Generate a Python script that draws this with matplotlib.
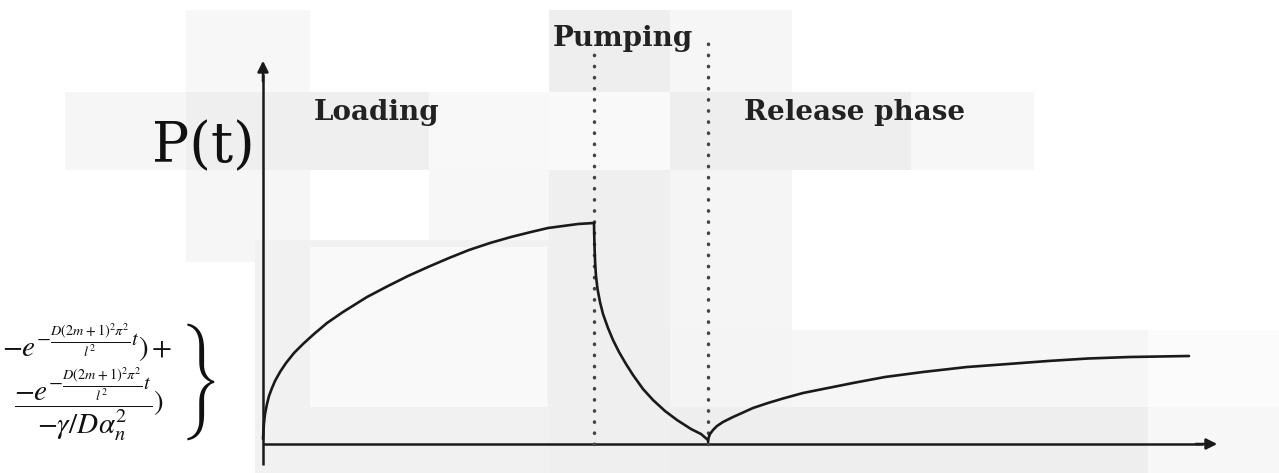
import matplotlib.pyplot as plt
from matplotlib.patches import Rectangle

plt.rcParams["mathtext.fontset"] = "stix"

# schematic P(t) curve: loading, pumping, release (time in arbitrary units)
t_loading = [0.0, 0.005, 0.01, 0.02, 0.04, 0.06, 0.09, 0.12, 0.17, 0.23, 0.31, 0.40, 0.51,
             0.64, 0.80, 1.04, 1.25, 1.45, 1.65, 1.86, 2.06, 2.27, 2.48, 2.68, 2.85, 3.00,
             3.15, 3.31]
p_loading = [0.05, 0.14, 0.21, 0.30, 0.40, 0.48, 0.56, 0.63, 0.72, 0.81, 0.91, 1.00, 1.10,
             1.21, 1.32, 1.47, 1.58, 1.68, 1.77, 1.86, 1.94, 2.01, 2.07, 2.12, 2.16, 2.18,
             2.20, 2.21]

t_pumping = [3.31, 3.312, 3.316, 3.322, 3.33, 3.345, 3.37, 3.40, 3.45, 3.50, 3.56, 3.63,
             3.70, 3.80, 3.90, 4.02, 4.14, 4.28, 4.38, 4.45]
p_pumping = [2.21, 2.10, 1.95, 1.80, 1.68, 1.55, 1.42, 1.30, 1.16, 1.04, 0.92, 0.80,
             0.69, 0.55, 0.44, 0.33, 0.24, 0.15, 0.10, 0.04]

t_release = [4.45, 4.455, 4.47, 4.50, 4.54, 4.60, 4.70, 4.79, 4.90, 5.05, 5.20, 5.40,
             5.65, 5.90, 6.22, 6.60, 7.04, 7.45, 7.85, 8.25, 8.67, 9.26]
p_release = [0.02, 0.06, 0.10, 0.14, 0.18, 0.22, 0.27, 0.31, 0.36, 0.41, 0.455, 0.51,
             0.56, 0.61, 0.67, 0.72, 0.77, 0.80, 0.83, 0.855, 0.87, 0.88]

phase_bounds = [3.31, 4.45]
phase_tops = [3.94, 4.04]
phase_labels = ["Loading", "Pumping", "Release phase"]

# faint scanned background tiles (pixel boxes: x0, y0, x1, y1, grey)
bg_tiles = [
    (186, 10, 310, 92, "#f7f7f7"),
    (65, 92, 186, 170, "#f6f6f6"),
    (186, 92, 429, 170, "#efefef"),
    (429, 92, 549, 170, "#f8f8f8"),
    (549, 10, 670, 92, "#eeeeee"),
    (670, 10, 792, 92, "#f6f6f6"),
    (549, 92, 670, 170, "#f9f9f9"),
    (670, 92, 911, 170, "#eeeeee"),
    (911, 92, 1034, 170, "#f7f7f7"),
    (186, 170, 310, 262, "#f6f6f6"),
    (429, 170, 549, 262, "#f7f7f7"),
    (255, 240, 549, 473, "#f1f1f1"),
    (310, 247, 547, 407, "#f9f9f9"),
    (549, 170, 670, 473, "#efefef"),
    (670, 170, 792, 330, "#f5f5f5"),
    (670, 330, 792, 407, "#f4f4f4"),
    (792, 330, 1148, 407, "#f6f6f6"),
    (1148, 330, 1279, 407, "#fbfbfb"),
    (670, 407, 1148, 473, "#eeeeee"),
    (1148, 407, 1279, 473, "#f7f7f7"),
]

fig = plt.figure(figsize=(12.79, 4.73), dpi=100)

bg = fig.add_axes([0, 0, 1, 1])
bg.set_xlim(0, 1279)
bg.set_ylim(473, 0)
bg.axis("off")
for x0, y0, x1, y1, c in bg_tiles:
    bg.add_patch(Rectangle((x0, y0), x1 - x0, y1 - y0, facecolor=c, edgecolor="none"))

ax = fig.add_axes([0, 0, 1, 1])
ax.patch.set_alpha(0)
ax.set_xlim(-2.63, 10.16)
ax.set_ylim(-0.29, 4.44)
ax.axis("off")

ink = "#1a1a1a"

# axes with arrow heads
ax.plot([0, 0], [-0.21, 3.7], color=ink, lw=1.8, solid_capstyle="butt")
ax.annotate("", xy=(0, 3.86), xytext=(0, 3.6),
            arrowprops=dict(arrowstyle="-|>", color=ink, lw=1.8, mutation_scale=16))
ax.plot([0, 9.4], [0, 0], color=ink, lw=1.8, solid_capstyle="butt")
ax.annotate("", xy=(9.57, 0), xytext=(9.3, 0),
            arrowprops=dict(arrowstyle="-|>", color=ink, lw=1.8, mutation_scale=16))

# phase boundaries (dotted)
for xb, top in zip(phase_bounds, phase_tops):
    ax.plot([xb, xb], [0, top], color="#444444", lw=2.5, linestyle=(0, (0.1, 3.1)),
            dash_capstyle="round")

# curve
for t, p in [(t_loading, p_loading), (t_pumping, p_pumping), (t_release, p_release)]:
    ax.plot(t, p, color=ink, lw=1.9, solid_joinstyle="round", solid_capstyle="round")

label_font = dict(family="DejaVu Serif", weight="bold", size=20, color="#222222")
ax.text(0.51, 3.32, phase_labels[0], ha="left", va="center", **label_font)
ax.text(2.90, 4.06, phase_labels[1], ha="left", va="center", **label_font)
ax.text(4.81, 3.32, phase_labels[2], ha="left", va="center", **label_font)

ax.text(-0.08, 2.97, "P(t)", ha="right", va="center", family="DejaVu Serif",
        size=40, color="#111111")

formula = (r"$\left.\genfrac{}{}{0}{0}"
           r"{-e^{-\frac{D(2m+1)^2\pi^2}{l^2}t})+}"
           r"{\dfrac{-e^{-\frac{D(2m+1)^2\pi^2}{l^2}t}}{-\gamma/D\alpha^2_n})}"
           r"\right\}$")
ax.text(-2.61, 0.62, formula, ha="left", va="center", size=21, color="#111111")

fig.savefig("out.png", dpi=100)
